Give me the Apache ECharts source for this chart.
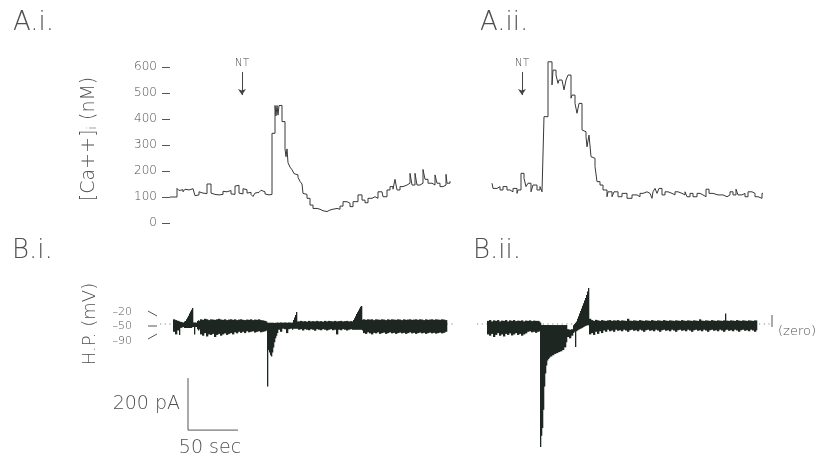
<!DOCTYPE html>
<html><head><meta charset="utf-8">
<script src="https://cdn.jsdelivr.net/npm/echarts/dist/echarts.min.js"></script>
<style>html,body{margin:0;padding:0;background:#fff}#c{width:821px;height:459px}</style>
</head><body><div id="c"></div>
<script>
// ---------- DATA ----------
// [Ca++]i traces: [time (s), concentration (nM)]
const caTicks = [0, 100, 200, 300, 400, 500, 600];
const caAi = [[0,100],[7,133],[9,125],[11,128],[13,120],[15,130],[17,127],[19,122],[21,132],[23,130],[25,105],[27,108],[29,120],[31,115],[33,120],[35,113],[37,150],[39,150],[41,115],[43,110],[45,112],[47,108],[49,112],[51,110],[53,122],[55,120],[57,118],[59,125],[61,112],[63,110],[65,142],[67,145],[69,115],[71,112],[73,132],[75,128],[77,115],[79,118],[81,110],[83,102],[85,115],[87,118],[89,112],[91,126],[93,120],[95,112],[97,108],[99,105],[101,110],[102,345],[105,452],[106,412],[107,452],[108,415],[109,452],[112,390],[115,285],[116,255],[117,285],[118,232],[120,215],[122,205],[124,190],[126,185],[128,176],[130,160],[132,150],[133,114],[135,110],[137,95],[140,69],[143,56],[147,53],[150,47],[153,44],[157,50],[160,53],[163,56],[167,53],[170,65],[173,82],[177,76],[180,63],[183,82],[188,108],[192,88],[195,78],[198,95],[202,101],[205,95],[208,120],[212,114],[213,101],[217,127],[220,140],[223,130],[225,168],[227,127],[230,140],[233,146],[237,153],[240,191],[242,146],[245,191],[247,146],[250,153],[253,206],[255,168],[258,153],[262,146],[265,185],[267,153],[270,140],[273,146],[276,187],[277,153],[280,161]];
const caAii = [[2,153],[3,133],[7,140],[10,127],[13,140],[17,127],[20,120],[23,133],[27,114],[28,127],[31,191],[34,172],[36,140],[38,153],[41,120],[43,146],[47,127],[50,140],[52,120],[54,409],[58,620],[62,531],[63,588],[66,569],[68,537],[69,550],[72,543],[74,512],[76,550],[78,569],[81,480],[82,492],[85,460],[87,422],[89,460],[92,358],[94,351],[96,332],[97,293],[99,338],[101,255],[103,249],[105,217],[107,159],[110,146],[113,127],[117,101],[118,120],[122,101],[124,120],[128,101],[132,114],[137,95],[142,108],[147,101],[150,114],[153,120],[157,114],[160,108],[162,95],[163,120],[165,133],[167,114],[169,133],[172,108],[175,120],[178,114],[182,108],[185,120],[188,114],[192,108],[195,120],[197,101],[200,114],[203,101],[207,114],[210,108],[213,101],[216,130],[219,114],[223,108],[228,108],[233,101],[237,108],[240,120],[243,108],[246,130],[248,108],[252,114],[255,101],[258,120],[262,114],[265,101],[268,95],[272,114],[273,114]];
// NT application times (s)
const ntTimeAi = 72;
const ntTimeAii = 32;
// holding current traces: [time (s), lower envelope (pA), upper envelope (pA)]
const currentBi = [[3,-30,18],[5,-40,15],[7,-25,12],[9,-42,10],[10,-15,8],[12,-12,6],[14,-15,10],[15,-15,12],[16,-15,18],[17,-15,25],[18,-15,32],[19,-15,40],[20,-15,48],[21,-15,55],[22,-12,62],[23,-12,6],[24,-40,6],[25,-12,6],[26,-12,5],[27,-20,12],[28,-25,14],[29,-20,12],
[30,-40,18],[32,-45,16],[34,-35,20],[36,-48,18],[38,-40,15],[40,-42,18],[42,-38,17],[44,-50,16],[46,-42,18],[48,-38,20],[50,-45,17],[52,-40,16],[54,-36,18],[56,-42,15],[58,-38,17],[60,-35,18],[62,-40,16],[64,-32,18],[66,-36,15],[68,-30,17],[70,-34,18],[72,-30,16],[74,-35,15],[76,-28,17],[78,-32,16],[80,-30,18],[82,-28,15],[84,-33,17],[86,-30,16],[88,-28,18],[90,-32,15],[92,-30,14],[94,-28,12],[96,-25,10],
[97,-240,5],[98,-100,5],[99,-110,5],[100,-120,5],[101,-125,5],[102,-110,5],[103,-90,5],[104,-70,4],[105,-55,5],[106,-45,5],[107,-35,6],
[108,-22,5],[110,-30,6],[112,-18,5],[114,-20,6],[116,-35,5],[118,-20,6],[120,-18,5],[122,-22,6],
[123,-18,15],[124,-18,25],[125,-18,35],[126,-18,46],[127,-18,10],
[128,-22,10],[130,-20,12],[132,-25,10],[134,-20,11],[136,-22,9],[138,-24,12],[140,-20,10],[142,-22,11],[144,-26,10],[146,-20,12],[148,-22,10],[150,-24,11],[152,-20,9],[154,-22,12],[156,-25,10],[158,-22,12],[160,-20,11],[162,-24,10],[164,-22,12],[166,-40,10],[168,-22,11],[170,-24,12],[172,-20,10],[174,-22,11],[176,-25,12],[178,-22,10],[180,-20,11],[182,-22,10],
[183,-22,15],[184,-22,22],[185,-22,30],[186,-22,38],[187,-22,45],[188,-22,52],[189,-22,60],[190,-22,66],[191,-22,69],[192,-25,16],
[193,-35,18],[195,-38,16],[197,-32,18],[199,-36,17],[201,-40,18],[203,-34,15],[205,-36,18],[207,-32,17],[209,-38,16],[211,-35,18],[213,-33,17],[215,-38,15],[217,-35,18],[219,-32,16],[221,-36,18],[223,-34,17],[225,-38,16],[227,-35,18],[229,-33,17],[231,-36,15],[233,-34,18],[235,-38,16],[237,-35,17],[239,-32,18],[241,-36,16],[243,-34,17],[245,-38,18],[247,-35,16],[249,-33,18],[251,-36,17],[253,-34,15],[255,-38,18],[257,-35,16],[259,-33,17],[261,-36,18],[263,-34,16],[265,-37,18],[267,-35,17],[269,-33,16],[271,-36,18],[273,-34,17],[275,-30,15]];
const currentBiEnd = 277;
const currentBii = [[-3,-40,12],[-1,-45,15],[1,-38,10],[3,-50,14],[5,-42,12],[7,-35,15],[9,-45,10],[11,-40,13],[13,-48,12],[15,-38,15],[17,-42,10],[19,-36,14],[21,-44,12],[23,-40,15],[25,-35,11],[27,-42,13],[29,-38,12],[31,-45,14],[33,-40,10],[35,-36,13],[37,-30,12],[39,-28,14],[41,-32,11],[43,-30,13],[45,-34,12],[47,-30,12],[49,-28,10],
[50,-473,5],[51,-430,-4],[52,-400,-4],[53,-330,-4],[54,-240,-4],[55,-190,-4],[56,-160,-4],[57,-140,-4],[58,-135,-4],[59,-130,-4],[60,-125,-4],[62,-120,-4],[64,-115,-4],[66,-112,-4],[68,-108,-4],[70,-105,-4],[72,-100,-4],[74,-90,-4],[76,-70,-4],
[77,-50,-20],[79,-55,-22],[81,-45,-20],[83,-35,-5],[84,-30,0],[85,-88,5],[86,-28,10],[87,-25,20],[88,-22,30],[89,-20,40],[90,-18,50],[91,-16,60],[92,-14,70],[93,-12,80],[94,-10,90],[95,-8,100],[96,-6,112],[97,-5,125],[98,-5,138],
[99,-40,20],[101,-35,15],[103,-42,12],[105,-30,16],[107,-38,14],[109,-28,12],[111,-35,15],[113,-25,13],[115,-30,12],[117,-22,14],[119,-28,15],[121,-25,12],[123,-30,14],[125,-22,13],[127,-26,15],[129,-24,12],[131,-28,14],[133,-22,13],[135,-25,12],[137,-30,20],[139,-24,13],[141,-22,12],[143,-26,14],[145,-24,13],[147,-28,12],[149,-22,15],[151,-25,13],[153,-30,12],[155,-24,14],[157,-22,13],[159,-26,12],[161,-24,15],[163,-28,13],[165,-22,12],[167,-25,14],[169,-30,13],[171,-24,12],[173,-22,15],[175,-26,13],[177,-24,12],[179,-28,14],[181,-22,13],[183,-25,12],[185,-30,14],[187,-24,13],[189,-22,12],[191,-26,15],[193,-24,13],[195,-28,12],[197,-22,14],[199,-25,13],[201,-30,12],[203,-24,14],[205,-22,13],[207,-26,12],[209,-24,18],[211,-28,13],[213,-22,12],[215,-25,14],[217,-30,13],[219,-24,12],[221,-22,15],[223,-26,13],[225,-24,12],[227,-28,14],[229,-22,13],[231,-25,12],[233,-30,14],[235,-24,40],[236,-22,13],[238,-26,12],[240,-24,14],[242,-28,13],[244,-22,12],[246,-25,15],[248,-30,13],[250,-24,12],[252,-22,14],[254,-26,13],[256,-24,12],[258,-28,14],[260,-22,13],[262,-25,12],[264,-30,14],[266,-24,13]];
const currentBiiEnd = 267;
// dotted zero-current lines (time span, s)
const zeroSpanBi = [-10, 285];
const zeroSpanBii = [-13, 280];
// scale bar: 200 pA, 50 sec
const scaleBarPA = 200;
const scaleBarSec = 50;
const scaleBarOrigin = [18, -408];
// holding potential labels
const hpLabels = ['\u201320', '\u201350', '\u201390'];

// ---------- CHART ----------
const FAM = "'DejaVu Sans', sans-serif";
const W = '200 ';
const TXT = '#505050';
const TRACE = '#383838';
const BAND = '#1d2620';
const chart = echarts.init(document.getElementById('c'));

function bandItems(arr, end) {
  return arr.map((d, i) => [d[0], i < arr.length - 1 ? arr[i + 1][0] : end, d[1], d[2]]);
}
function renderBand(params, api) {
  const a = api.coord([api.value(0), api.value(3)]);
  const b = api.coord([api.value(1), api.value(2)]);
  return {
    type: 'rect',
    shape: { x: a[0], y: a[1], width: Math.max(b[0] - a[0], 1) + 0.3, height: b[1] - a[1] },
    style: { fill: BAND }
  };
}
function ntMark(t) {
  return {
    silent: true, symbol: ['none', 'arrow'], symbolSize: 6, animation: false,
    lineStyle: { color: '#444', width: 1, type: 'solid' },
    label: { show: true, position: 'start', formatter: 'NT', color: TXT, fontSize: 10.5, fontFamily: FAM, fontWeight: 200, distance: 3 },
    data: [[{ coord: [t, 581] }, { coord: [t, 492] }]]
  };
}
const lbl = (text, x, y, size, align) => ({
  type: 'text', x: x, y: y,
  style: { text: text, fill: TXT, font: W + size + 'px ' + FAM, align: align || 'left', verticalAlign: 'middle' }
});
const seg = (x1, y1, x2, y2) => ({ type: 'line', shape: { x1, y1, x2, y2 }, style: { stroke: '#555', lineWidth: 1 } });

const option = {
  animation: false,
  backgroundColor: '#fff',
  grid: [
    { left: 170, top: 67, width: 290, height: 156 },
    { left: 470, top: 54, width: 310, height: 169 },
    { left: 150, top: 272, width: 310, height: 182 },
    { left: 470, top: 272, width: 310, height: 182 }
  ],
  xAxis: [
    { gridIndex: 0, type: 'value', min: 0, max: 290, show: false },
    { gridIndex: 1, type: 'value', min: -20, max: 290, show: false },
    { gridIndex: 2, type: 'value', min: -20, max: 290, show: false },
    { gridIndex: 3, type: 'value', min: -20, max: 290, show: false }
  ],
  yAxis: [
    { gridIndex: 0, type: 'value', min: caTicks[0], max: caTicks[caTicks.length - 1], interval: 100,
      axisLine: { show: false }, splitLine: { show: false },
      axisTick: { show: true, length: 8, lineStyle: { color: '#555', width: 1 } },
      axisLabel: { margin: 13, color: TXT, fontSize: 12, fontFamily: FAM, fontWeight: 200 } },
    { gridIndex: 1, type: 'value', min: 0, max: 650, show: false },
    { gridIndex: 2, type: 'value', min: -500, max: 200, show: false },
    { gridIndex: 3, type: 'value', min: -500, max: 200, show: false }
  ],
  series: [
    { type: 'line', xAxisIndex: 0, yAxisIndex: 0, data: caAi, step: 'end', symbol: 'none',
      lineStyle: { color: TRACE, width: 1 }, markLine: ntMark(ntTimeAi) },
    { type: 'line', xAxisIndex: 1, yAxisIndex: 1, data: caAii, step: 'end', symbol: 'none',
      lineStyle: { color: TRACE, width: 1 }, markLine: ntMark(ntTimeAii) },
    { type: 'line', xAxisIndex: 2, yAxisIndex: 2, data: zeroSpanBi.map(t => [t, 0]), symbol: 'none', z: 1,
      lineStyle: { color: '#888', width: 1, type: [1.2, 3.5] } },
    { type: 'line', xAxisIndex: 3, yAxisIndex: 3, data: zeroSpanBii.map(t => [t, 0]), symbol: 'none', z: 1,
      lineStyle: { color: '#888', width: 1, type: [1.2, 3.5] } },
    { type: 'custom', xAxisIndex: 2, yAxisIndex: 2, data: bandItems(currentBi, currentBiEnd), renderItem: renderBand,
      encode: { x: [0, 1], y: [2, 3] }, z: 3 },
    { type: 'custom', xAxisIndex: 3, yAxisIndex: 3, data: bandItems(currentBii, currentBiiEnd), renderItem: renderBand,
      encode: { x: [0, 1], y: [2, 3] }, z: 3 },
    { type: 'line', xAxisIndex: 2, yAxisIndex: 2, symbol: 'none',
      data: [[scaleBarOrigin[0], scaleBarOrigin[1] + scaleBarPA], scaleBarOrigin, [scaleBarOrigin[0] + scaleBarSec, scaleBarOrigin[1]]],
      lineStyle: { color: '#555', width: 1 } }
  ],
  graphic: [
    lbl('A.i.', 13, 23, 26), lbl('A.ii.', 480, 23, 26),
    lbl('B.i.', 12, 251, 26), lbl('B.ii.', 473, 251, 26),
    { type: 'text', x: 89, y: 139, rotation: Math.PI / 2,
      style: { text: '[Ca++]{s|i} (nM)', fill: TXT, font: W + '19px ' + FAM, align: 'center', verticalAlign: 'middle',
        rich: { s: { fontSize: 13, fontFamily: FAM, fontWeight: 200, fill: TXT, verticalAlign: 'bottom', padding: [8, 0, 0, 0] } } } },
    { type: 'text', x: 90, y: 324, rotation: Math.PI / 2,
      style: { text: 'H.P. (mV)', fill: TXT, font: W + '18px ' + FAM, align: 'center', verticalAlign: 'middle' } },
    lbl(hpLabels[0], 132, 312, 11, 'right'), lbl(hpLabels[1], 132, 326.5, 11, 'right'), lbl(hpLabels[2], 132, 341.5, 11, 'right'),
    seg(148, 311, 157, 316), seg(148, 326, 157, 326), seg(148, 339, 157, 334),
    lbl(scaleBarPA + ' pA', 180, 404, 19, 'right'),
    lbl(scaleBarSec + ' sec', 210, 448, 19, 'center'),
    seg(772, 315, 772, 327),
    lbl('(zero)', 778, 332, 13)
  ]
};
chart.setOption(option);
</script>
</body></html>
